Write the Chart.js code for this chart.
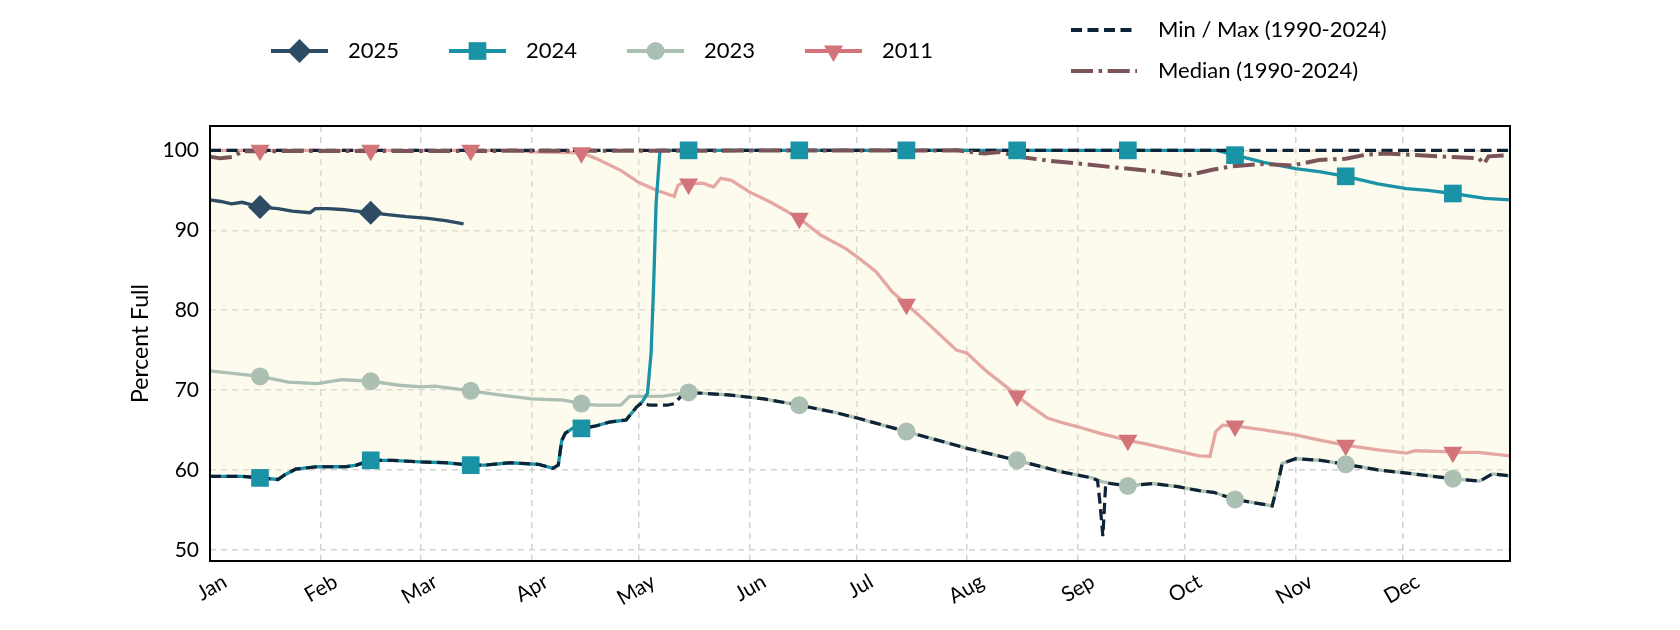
<!DOCTYPE html>
<html>
<head>
<meta charset="utf-8">
<script src="https://cdn.jsdelivr.net/npm/chart.js@4.4.1/dist/chart.umd.min.js"></script>
<style>
  html, body { margin: 0; padding: 0; background: #fff; }
</style>
</head>
<body>
<canvas id="storage" width="1680" height="630"></canvas>
<script>
// x axis is day of year (0 = Jan 1)
const monthNames = ['Jan', 'Feb', 'Mar', 'Apr', 'May', 'Jun', 'Jul', 'Aug', 'Sep', 'Oct', 'Nov', 'Dec'];
const monthStarts = [0, 31, 59, 90, 120, 151, 181, 212, 243, 273, 304, 334];
const markerDays = [14, 45, 73, 104, 134, 165, 195, 226, 257, 287, 318, 348];
const yTicks = [50, 60, 70, 80, 90, 100];

// 2025
const days2025 = [0, 3, 6, 9, 14, 19, 23, 28, 29.5, 33, 37, 41, 45, 49, 55, 61, 66, 71];
const pct2025 = [93.8, 93.6, 93.3, 93.5, 92.9, 92.7, 92.4, 92.2, 92.7, 92.7, 92.6, 92.4, 92.2, 92.0, 91.7, 91.5, 91.2, 90.8];

// 2024
const days2024 = [0, 9, 14, 19, 21, 24, 30, 38, 41, 45, 51, 59, 66, 73, 77, 84, 92, 96, 97.5, 98.5,
  99.5, 101.5, 104, 108, 112, 116.5, 119.5, 121, 122.5, 123.5, 124.2, 124.9, 126, 134, 165, 195, 226, 257, 282, 287,
  295, 304, 311, 318, 327, 335, 341, 348, 357, 364];
const pct2024 = [59.2, 59.2, 59.0, 58.8, 59.4, 60.1, 60.4, 60.4, 60.6, 61.2, 61.2, 61.0, 60.9, 60.6, 60.6, 60.9, 60.7, 60.2, 60.6, 63.7,
  64.6, 65.2, 65.2, 65.5, 66.0, 66.25, 67.9, 68.5, 69.6, 74.6, 82.9, 93.3, 100, 100, 100, 100, 100, 100, 100, 99.4,
  98.5, 97.7, 97.3, 96.75, 95.8, 95.2, 95.0, 94.6, 94.0, 93.8];

// 2023
const days2023 = [0, 14, 22, 30, 37, 45, 53, 59, 63, 73, 81, 90, 99, 104, 108, 115, 117.5, 127, 134, 145,
  155, 165, 175, 182, 195, 212, 226, 238, 247, 250, 257, 264, 271, 277, 281, 287, 297.4, 298.8, 300.2, 304,
  311, 318, 327, 337, 348, 355.5, 359, 364];
const pct2023 = [72.4, 71.7, 71.0, 70.8, 71.3, 71.1, 70.6, 70.4, 70.5, 69.9, 69.4, 68.9, 68.75, 68.3, 68.1, 68.1, 69.2, 69.25, 69.7, 69.4,
  68.9, 68.1, 67.2, 66.4, 64.8, 62.7, 61.2, 59.8, 59.0, 58.5, 58.0, 58.3, 57.9, 57.4, 57.2, 56.3, 55.5, 57.9, 60.8, 61.4,
  61.2, 60.7, 60.0, 59.5, 58.9, 58.6, 59.5, 59.25];

// 2011
const days2011 = [0, 14, 45, 73, 85, 90, 104, 108, 115, 120, 125, 130, 131, 132.5, 134, 138, 141, 143, 146, 151,
  157, 165, 171, 178, 182, 186.5, 191, 195, 200, 206, 209, 212, 217, 223, 226, 230, 234.5, 238, 243, 249,
  257, 262, 268.5, 277, 280, 281.6, 283.5, 287, 295, 304, 311, 318, 327, 335, 337.5, 346, 348, 355, 364];
const pct2011 = [100, 100, 100, 100, 100, 99.8, 99.7, 99.0, 97.5, 96.0, 95.0, 94.25, 95.6, 96.0, 95.8, 95.9, 95.4, 96.5, 96.25, 94.8,
  93.5, 91.5, 89.4, 87.7, 86.4, 84.8, 82.3, 80.75, 78.75, 76.25, 75.0, 74.6, 72.5, 70.4, 69.25, 67.9, 66.5, 66.0, 65.4, 64.6,
  63.7, 63.25, 62.6, 61.75, 61.7, 64.8, 65.6, 65.5, 65.0, 64.4, 63.7, 63.1, 62.5, 62.1, 62.4, 62.3, 62.2, 62.2, 61.75];

// Min / Max / Median 1990-2024
const daysMin = [0, 9, 14, 19, 21, 24, 30, 38, 41, 45, 51, 59, 66, 73, 77, 84, 92, 96, 97.5, 98.5,
  99.5, 101.5, 104, 108, 112, 116.5, 119.5, 121, 123, 128, 130, 132.5, 134, 145, 155, 165, 175, 182, 195, 212,
  226, 238, 247, 248.5, 249.2, 250, 250.8, 252, 257, 264, 271, 277, 281, 287, 297.4, 298.8, 300.2, 304, 311, 318,
  327, 337, 348, 355.5, 359, 364];
const pctMin = [59.2, 59.2, 59.0, 58.8, 59.4, 60.1, 60.4, 60.4, 60.6, 61.2, 61.2, 61.0, 60.9, 60.6, 60.6, 60.9, 60.7, 60.2, 60.6, 63.7,
  64.6, 65.2, 65.2, 65.5, 66.0, 66.25, 67.9, 68.4, 68.1, 68.1, 68.3, 69.5, 69.7, 69.4, 68.9, 68.1, 67.2, 66.4, 64.8, 62.7,
  61.2, 59.8, 59.0, 58.7, 55.8, 51.7, 58.3, 58.3, 58.0, 58.3, 57.9, 57.4, 57.2, 56.3, 55.5, 57.9, 60.8, 61.4, 61.2, 60.7,
  60.0, 59.5, 58.9, 58.6, 59.5, 59.25];
const daysMax = [0, 364];
const pctMax = [100, 100];
const daysMed = [0, 3, 6.5, 9, 209, 212.6, 217, 221, 226.6, 234, 242, 252.6, 264, 273, 277, 281, 286, 295, 303, 310.5,
  318, 323.6, 329, 336.6, 346, 355.3, 356.7, 358, 364];
const pctMed = [99.2, 99.0, 99.2, 99.9, 100, 99.8, 99.6, 99.8, 99.2, 98.75, 98.4, 97.9, 97.4, 96.8, 97.2, 97.6, 98.0, 98.3, 98.1, 98.8,
  98.95, 99.45, 99.6, 99.45, 99.2, 99.0, 98.3, 99.25, 99.4];

function toPoints(days, vals) {
    return days.map((d, i) => ({ x: d, y: vals[i] }));
}

function markerPoints(days, vals) {
    return toPoints(days, vals).filter(p => markerDays.includes(p.x));
}

const years = [
    { label: '2025', days: days2025, vals: pct2025, color: '#2d4b62', lineColor: '#2d4b62', style: 'rectRot', radius: 12, rotation: 0 },
    { label: '2024', days: days2024, vals: pct2024, color: '#1a93a6', lineColor: '#1a93a6', style: 'rect', radius: 12.5, rotation: 0 },
    { label: '2023', days: days2023, vals: pct2023, color: '#abbfb3', lineColor: '#abbfb3', style: 'circle', radius: 9, rotation: 0 },
    { label: '2011', days: days2011, vals: pct2011, color: '#d3737a', lineColor: '#e5a7a1', style: 'triangle', radius: 11, rotation: 180 }
];

const minMaxColor = '#0f2337';
const medianColor = '#7a5459';
const minMaxDash = [11, 5.5];
const medianDash = [22, 5.6, 3.5, 5.6];

const datasets = [];
// lines of single years, under the envelope lines
years.forEach((y, i) => {
    datasets.push({
        label: y.label,
        data: toPoints(y.days, y.vals),
        borderColor: y.lineColor,
        borderWidth: 3.3,
        pointRadius: 0,
        fill: false,
        order: 10 + i
    });
});
const minIndex = datasets.length;
datasets.push({
    label: 'Min (1990-2024)',
    data: toPoints(daysMin, pctMin),
    borderColor: minMaxColor,
    borderWidth: 3.2,
    borderDash: minMaxDash,
    pointRadius: 0,
    fill: false,
    order: 4
});
datasets.push({
    label: 'Max (1990-2024)',
    data: toPoints(daysMax, pctMax),
    borderColor: minMaxColor,
    borderWidth: 3.2,
    borderDash: minMaxDash,
    pointRadius: 0,
    fill: { target: minIndex },
    backgroundColor: 'rgba(246, 242, 200, 0.3)',
    order: 3
});
datasets.push({
    label: 'Median (1990-2024)',
    data: toPoints(daysMed, pctMed),
    borderColor: medianColor,
    borderWidth: 4,
    borderDash: medianDash,
    pointRadius: 0,
    fill: false,
    order: 2
});
// monthly markers on top
years.forEach(y => {
    datasets.push({
        label: y.label + ' markers',
        data: markerPoints(y.days, y.vals),
        showLine: false,
        pointStyle: y.style,
        pointRadius: y.radius,
        pointRotation: y.rotation,
        pointBackgroundColor: y.color,
        pointBorderWidth: 0,
        order: 0
    });
});

function drawMarker(ctx, y, x, yy) {
    ctx.fillStyle = y.color;
    if (Chart.helpers && Chart.helpers.drawPoint) {
        Chart.helpers.drawPoint(ctx, { pointStyle: y.style, rotation: y.rotation, radius: y.radius, borderWidth: 0 }, x, yy);
    }
}

function legendLine(ctx, color, width, dash, x0, x1, y) {
    ctx.strokeStyle = color;
    ctx.lineWidth = width;
    ctx.setLineDash(dash);
    ctx.beginPath();
    ctx.moveTo(x0, y);
    ctx.lineTo(x1, y);
    ctx.stroke();
    ctx.setLineDash([]);
}

const legendPlugin = {
    id: 'storageLegend',
    afterDraw(chart) {
        const ctx = chart.ctx;
        ctx.save();
        ctx.font = '22px Lato';
        ctx.textBaseline = 'middle';
        years.forEach((y, i) => {
            const x0 = 271 + i * 178;
            const ly = 51;
            legendLine(ctx, y.color, 4, [], x0, x0 + 57, ly);
            drawMarker(ctx, y, x0 + 28.5, ly);
            ctx.fillStyle = '#000';
            ctx.fillText(y.label, x0 + 77, ly);
        });
        legendLine(ctx, minMaxColor, 4, minMaxDash, 1071, 1137, 30);
        legendLine(ctx, medianColor, 4, medianDash, 1071, 1137, 71);
        ctx.fillStyle = '#000';
        ctx.fillText('Min / Max (1990-2024)', 1158, 30);
        ctx.fillText('Median (1990-2024)', 1158, 71);

        // plot frame
        const a = chart.chartArea;
        ctx.strokeStyle = '#000';
        ctx.lineWidth = 2;
        ctx.strokeRect(a.left, a.top, a.right - a.left, a.bottom - a.top);
        ctx.restore();
    }
};

Chart.defaults.font.family = 'Lato';
Chart.defaults.color = '#000';

new Chart(document.getElementById('storage'), {
    type: 'line',
    data: { datasets: datasets },
    options: {
        responsive: false,
        animation: false,
        devicePixelRatio: 1,
        layout: { padding: { left: 123, right: 170, top: 126, bottom: 0 } },
        plugins: {
            legend: { display: false },
            tooltip: { enabled: false },
            filler: { drawTime: 'beforeDatasetsDraw' }
        },
        elements: { line: { tension: 0 } },
        scales: {
            x: {
                type: 'linear',
                min: 0,
                max: 364,
                afterBuildTicks: scale => { scale.ticks = monthStarts.map(v => ({ value: v })); },
                afterFit: scale => { scale.height = 69; },
                ticks: {
                    autoSkip: false,
                    minRotation: 30,
                    maxRotation: 30,
                    padding: 8,
                    labelOffset: 15,
                    font: { size: 21 },
                    callback: value => monthNames[monthStarts.indexOf(value)] || ''
                },
                grid: { color: '#d2d2d2', lineWidth: 1.5, drawTicks: false },
                border: { display: false, dash: [6, 5] }
            },
            y: {
                min: 48.6,
                max: 103.05,
                afterBuildTicks: scale => { scale.ticks = yTicks.map(v => ({ value: v })); },
                afterFit: scale => { scale.width = 87; },
                ticks: { padding: 11, font: { size: 21 } },
                grid: { color: '#d2d2d2', lineWidth: 1.5, drawTicks: false },
                border: { display: false, dash: [6, 5] },
                title: { display: true, text: 'Percent Full', font: { size: 23 } }
            }
        }
    },
    plugins: [legendPlugin]
});
</script>
</body>
</html>
